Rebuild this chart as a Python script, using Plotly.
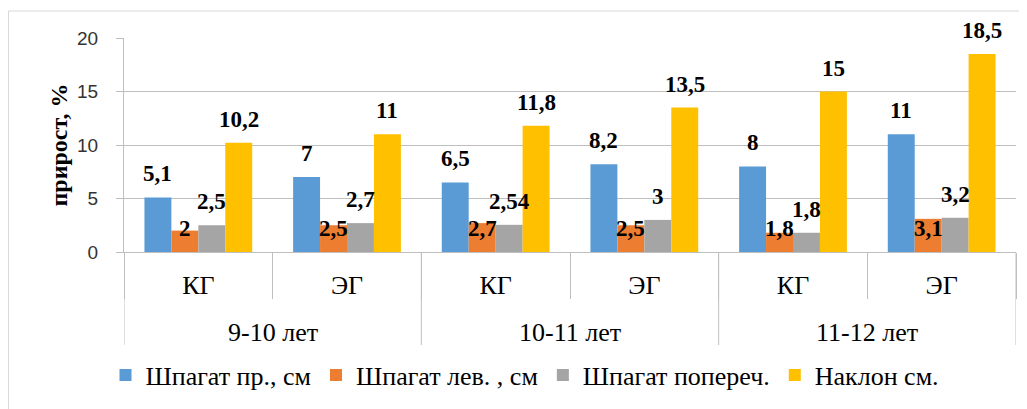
import plotly.graph_objects as go

groups = ["9-10 лет", "9-10 лет", "10-11 лет", "10-11 лет", "11-12 лет", "11-12 лет"]
subgroups = ["КГ", "ЭГ", "КГ", "ЭГ", "КГ", "ЭГ"]

series_names = ["Шпагат пр., см", "Шпагат лев. , см", "Шпагат попереч.", "Наклон см."]
shpagat_pr = [5.1, 7, 6.5, 8.2, 8, 11]
shpagat_lev = [2, 2.5, 2.7, 2.5, 1.8, 3.1]
shpagat_poper = [2.5, 2.7, 2.54, 3, 1.8, 3.2]
naklon = [10.2, 11, 11.8, 13.5, 15, 18.5]
colors = ["#5B9BD5", "#ED7D31", "#A5A5A5", "#FFC000"]

all_series = [shpagat_pr, shpagat_lev, shpagat_poper, naklon]

# page has an 8px body margin -> figure is 8px smaller than the window
W, H = 1019, 401
L, R, T, B = 116, 11, 30, 157
PW, PH = W - L - R, H - T - B
BARGAP = 0.275

xidx = list(range(len(subgroups)))

fig = go.Figure()
for name, vals, col in zip(series_names, all_series, colors):
    fig.add_trace(go.Bar(
        x=xidx, y=vals, name=name,
        marker=dict(color=col, line=dict(width=0)),
    ))

def fmt(v):
    return ("%g" % v).replace(".", ",")

serif = "Liberation Serif"
grey = "#BFBFBF"
annotations = []
shapes = []
n = len(all_series)
bw = (1 - BARGAP) / n
for j, vals in enumerate(all_series):
    for i, v in enumerate(vals):
        xpos = i + (j - (n - 1) / 2) * bw
        inside_base = (j == 1)
        annotations.append(dict(
            x=xpos, y=0 if inside_base else v, xref="x", yref="y",
            text="<b>" + fmt(v) + "</b>", showarrow=False,
            yanchor="bottom", yshift=9,
            font=dict(family=serif, size=23, color="black"),
        ))

# group labels (outer level of the category axis) and their dividers
uniq_groups = []
for g in groups:
    if g not in uniq_groups:
        uniq_groups.append(g)
group_bounds = [-0.5]
for g in uniq_groups:
    idx = [i for i, gg in enumerate(groups) if gg == g]
    annotations.append(dict(
        x=sum(idx) / len(idx), y=0, xref="x", yref="paper",
        text=g, showarrow=False, yanchor="middle", yshift=-80,
        font=dict(family=serif, size=26, color="black"),
    ))
    group_bounds.append(max(idx) + 0.5)
for gb in group_bounds:
    shapes.append(dict(type="line", xref="x", yref="paper",
                       x0=gb, x1=gb, y0=0, y1=-93 / PH,
                       line=dict(color=grey, width=1)))

# outer chart border (left and top edges visible)
shapes += [
    dict(type="line", xref="paper", yref="paper",
         x0=(0.5 - L) / PW, x1=(0.5 - L) / PW,
         y0=1 + (T - 3) / PH, y1=-(B + 5) / PH,
         line=dict(color="#D9D9D9", width=1)),
    dict(type="line", xref="paper", yref="paper",
         x0=(0.5 - L) / PW, x1=1 + (R + 5) / PW,
         y0=1 + (T - 3) / PH, y1=1 + (T - 3) / PH,
         line=dict(color="#D9D9D9", width=1)),
]

fig.update_layout(
    width=W, height=H,
    margin=dict(l=L, r=R, t=T, b=B, autoexpand=False),
    paper_bgcolor="white", plot_bgcolor="white",
    barmode="group", bargap=BARGAP, bargroupgap=0,
    annotations=annotations, shapes=shapes,
    showlegend=True,
    legend=dict(
        orientation="h", xref="container", yref="container",
        x=517 / W, xanchor="center", y=1 - 367 / H, yanchor="middle",
        font=dict(family=serif, size=26, color="black"),
        itemwidth=30, tracegroupgap=0,
    ),
)

xrange = [-0.5, len(subgroups) - 0.5]
fig.update_xaxes(
    range=xrange, automargin=False,
    tickmode="array", tickvals=xidx, ticktext=subgroups,
    ticks="", ticklabelstandoff=10,
    showline=True, linecolor=grey, linewidth=1,
    minor=dict(tickmode="array", tickvals=[i + 0.5 for i in range(-1, len(subgroups))],
               ticks="outside", ticklen=46, tickcolor=grey, tickwidth=1, showgrid=False),
    tickfont=dict(family=serif, size=26, color="black"),
    showgrid=False, zeroline=False,
)
fig.update_yaxes(
    range=[0, 20], dtick=5, automargin=False,
    showline=True, linecolor=grey, linewidth=1,
    showgrid=True, gridcolor=grey, gridwidth=1,
    ticks="outside", ticklen=7, tickcolor=grey,
    ticklabelstandoff=14,
    tickfont=dict(family="Liberation Sans", size=19, color="#333"),
    zeroline=False,
    title=dict(text="<b>прирост, %</b>", font=dict(family=serif, size=24, color="black"), standoff=2),
)

fig.write_html("out.html")
